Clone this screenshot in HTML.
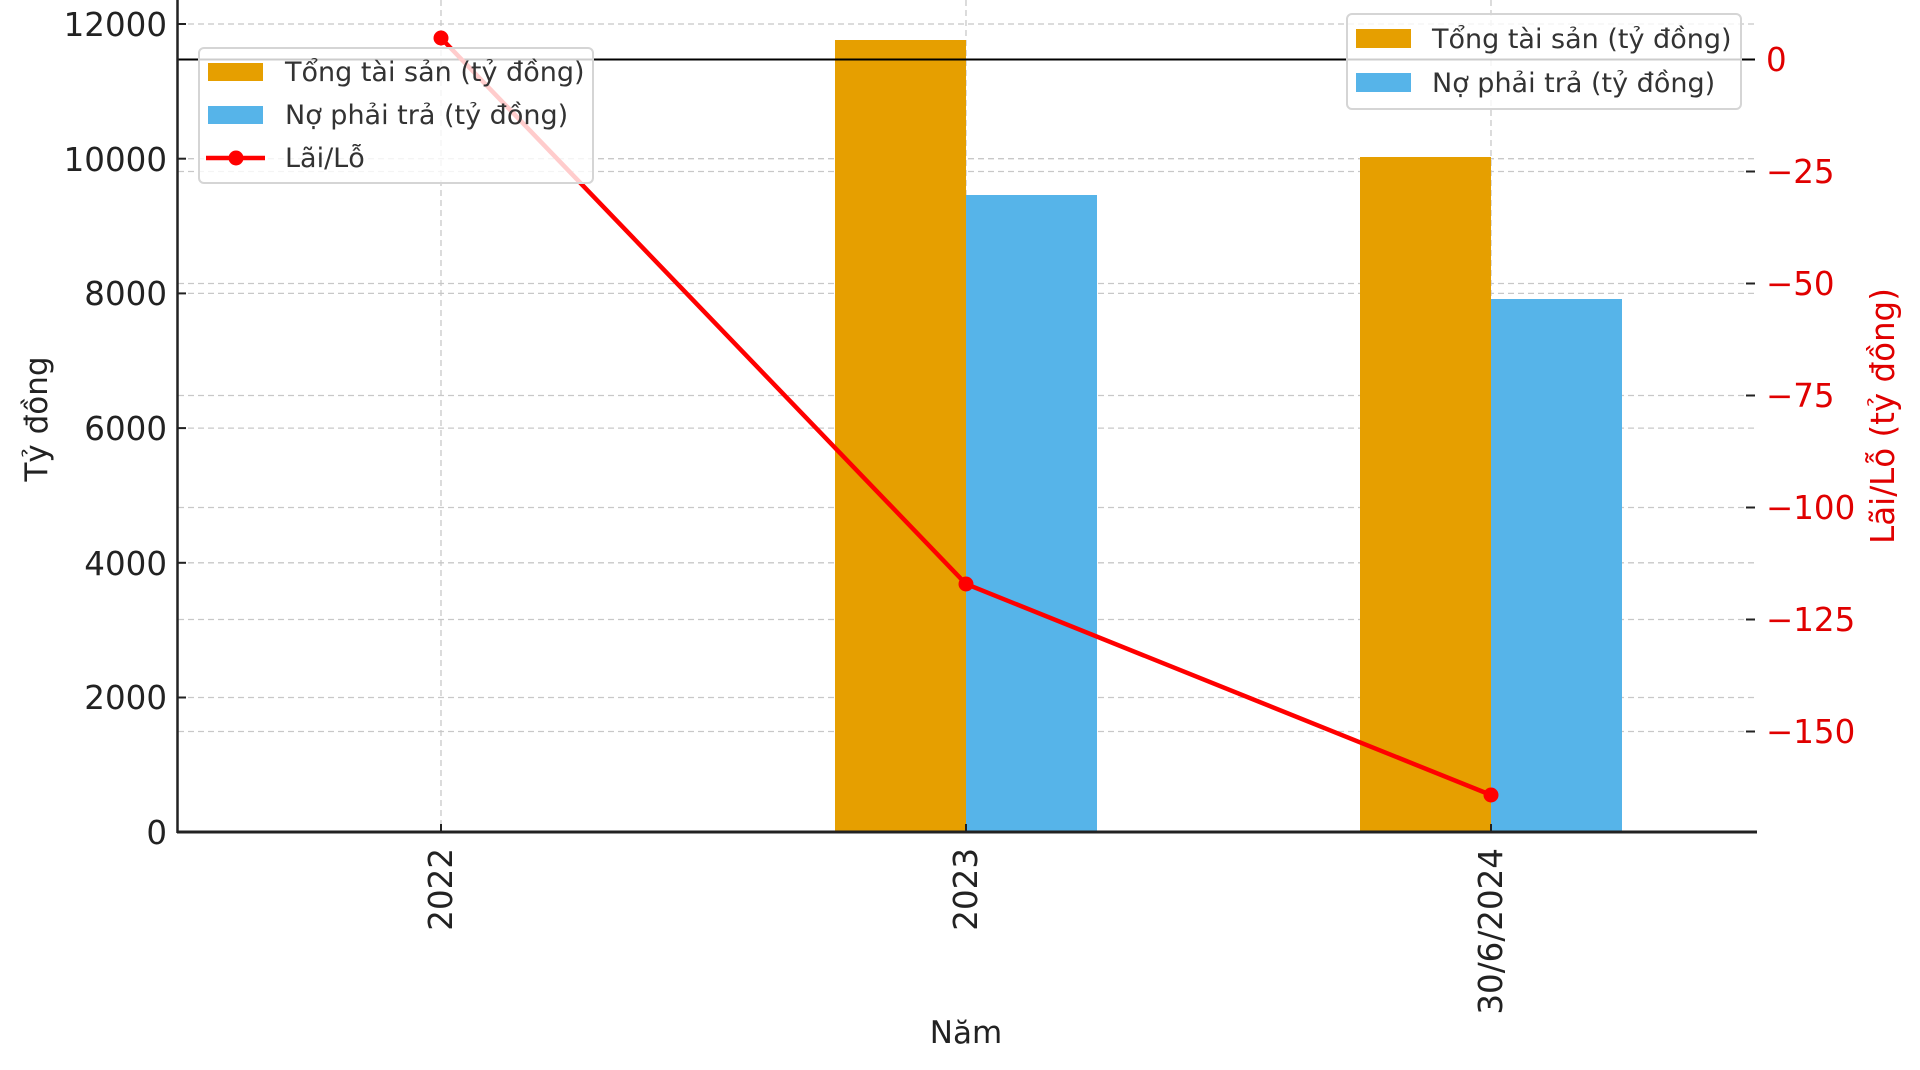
<!DOCTYPE html>
<html><head><meta charset="utf-8"><style>
html,body{margin:0;padding:0;background:#fff;}
svg{display:block;font-family:"DejaVu Sans","Liberation Sans",sans-serif;}
</style></head><body>
<svg width="1920" height="1070" viewBox="0 0 1920 1070" xmlns="http://www.w3.org/2000/svg">
<g stroke="#c8c8c8" stroke-width="1.3" stroke-dasharray="6,4">
<line x1="178" y1="24" x2="1755" y2="24"/>
<line x1="178" y1="158.7" x2="1755" y2="158.7"/>
<line x1="178" y1="293.4" x2="1755" y2="293.4"/>
<line x1="178" y1="428.1" x2="1755" y2="428.1"/>
<line x1="178" y1="562.8" x2="1755" y2="562.8"/>
<line x1="178" y1="697.5" x2="1755" y2="697.5"/>
<line x1="178" y1="171.5" x2="1755" y2="171.5"/>
<line x1="178" y1="283.5" x2="1755" y2="283.5"/>
<line x1="178" y1="395.5" x2="1755" y2="395.5"/>
<line x1="178" y1="507.5" x2="1755" y2="507.5"/>
<line x1="178" y1="619.5" x2="1755" y2="619.5"/>
<line x1="178" y1="731.5" x2="1755" y2="731.5"/>
<line x1="441" y1="0" x2="441" y2="832"/>
<line x1="966" y1="0" x2="966" y2="832"/>
<line x1="1491" y1="0" x2="1491" y2="832"/>
</g>
<rect x="835" y="40" width="131" height="792" fill="#E69F00"/>
<rect x="966" y="195" width="131" height="637" fill="#56B4E9"/>
<rect x="1360" y="157" width="131" height="675" fill="#E69F00"/>
<rect x="1491" y="299" width="131" height="533" fill="#56B4E9"/>
<line x1="178" y1="59.5" x2="1755" y2="59.5" stroke="#000" stroke-width="2"/>
<line x1="177.5" y1="0" x2="177.5" y2="833" stroke="#222" stroke-width="2.5"/>
<line x1="177" y1="832" x2="1757" y2="832" stroke="#222" stroke-width="3"/>
<g stroke="#222" stroke-width="2">
<line x1="178" y1="24" x2="186" y2="24"/><line x1="178" y1="158.7" x2="186" y2="158.7"/>
<line x1="178" y1="293.4" x2="186" y2="293.4"/><line x1="178" y1="428.1" x2="186" y2="428.1"/>
<line x1="178" y1="562.8" x2="186" y2="562.8"/><line x1="178" y1="697.5" x2="186" y2="697.5"/>
<line x1="441" y1="824" x2="441" y2="832"/><line x1="966" y1="824" x2="966" y2="832"/><line x1="1491" y1="824" x2="1491" y2="832"/>
<line x1="1746" y1="171.5" x2="1755" y2="171.5"/><line x1="1746" y1="283.5" x2="1755" y2="283.5"/>
<line x1="1746" y1="395.5" x2="1755" y2="395.5"/><line x1="1746" y1="507.5" x2="1755" y2="507.5"/>
<line x1="1746" y1="619.5" x2="1755" y2="619.5"/><line x1="1746" y1="731.5" x2="1755" y2="731.5"/>
</g>
<polyline points="441,38 966,584 1491,795" fill="none" stroke="#f00" stroke-width="4.5"/>
<circle cx="441" cy="38" r="7.5" fill="#f00"/><circle cx="966" cy="584" r="7.5" fill="#f00"/><circle cx="1491" cy="795" r="7.5" fill="#f00"/>
<g font-size="32.5" fill="#222" text-anchor="end">
<text x="167" y="36">12000</text><text x="167" y="171">10000</text><text x="167" y="305">8000</text>
<text x="167" y="440">6000</text><text x="167" y="575">4000</text><text x="167" y="709">2000</text><text x="167" y="844">0</text>
</g>
<g font-size="32.5" fill="#e00000">
<text x="1766" y="71">0</text><text x="1766" y="183">−25</text><text x="1766" y="295">−50</text>
<text x="1766" y="407">−75</text><text x="1766" y="519">−100</text><text x="1766" y="631">−125</text><text x="1766" y="743">−150</text>
</g>
<g font-size="32.5" fill="#222" text-anchor="end">
<text transform="translate(452,848) rotate(-90)">2022</text>
<text transform="translate(977,848) rotate(-90)">2023</text>
<text transform="translate(1502,848) rotate(-90)">30/6/2024</text>
</g>
<text x="966" y="1043" font-size="31" fill="#222" text-anchor="middle">Năm</text>
<text transform="translate(47,419) rotate(-90)" font-size="31" fill="#222" text-anchor="middle">Tỷ đồng</text>
<text transform="translate(1894,416) rotate(-90)" font-size="32.5" fill="#e00000" text-anchor="middle">Lãi/Lỗ (tỷ đồng)</text>
<rect x="199" y="48" width="394" height="135" rx="5" fill="#fff" fill-opacity="0.8" stroke="#d5d5d5" stroke-width="2"/>
<rect x="208" y="63" width="55" height="18" fill="#E69F00"/>
<rect x="208" y="106" width="55" height="18" fill="#56B4E9"/>
<line x1="206" y1="158" x2="265" y2="158" stroke="#f00" stroke-width="4.5"/><circle cx="236" cy="158" r="7.5" fill="#f00"/>
<g font-size="27" fill="#333">
<text x="285" y="81">Tổng tài sản (tỷ đồng)</text>
<text x="285" y="124">Nợ phải trả (tỷ đồng)</text>
<text x="285" y="167">Lãi/Lỗ</text>
</g>
<rect x="1347" y="14" width="394" height="95" rx="5" fill="#fff" fill-opacity="0.8" stroke="#d5d5d5" stroke-width="2"/>
<rect x="1356" y="29" width="55" height="19" fill="#E69F00"/>
<rect x="1356" y="73" width="55" height="19" fill="#56B4E9"/>
<g font-size="27" fill="#333">
<text x="1432" y="48">Tổng tài sản (tỷ đồng)</text>
<text x="1432" y="92">Nợ phải trả (tỷ đồng)</text>
</g>
</svg>
</body></html>
